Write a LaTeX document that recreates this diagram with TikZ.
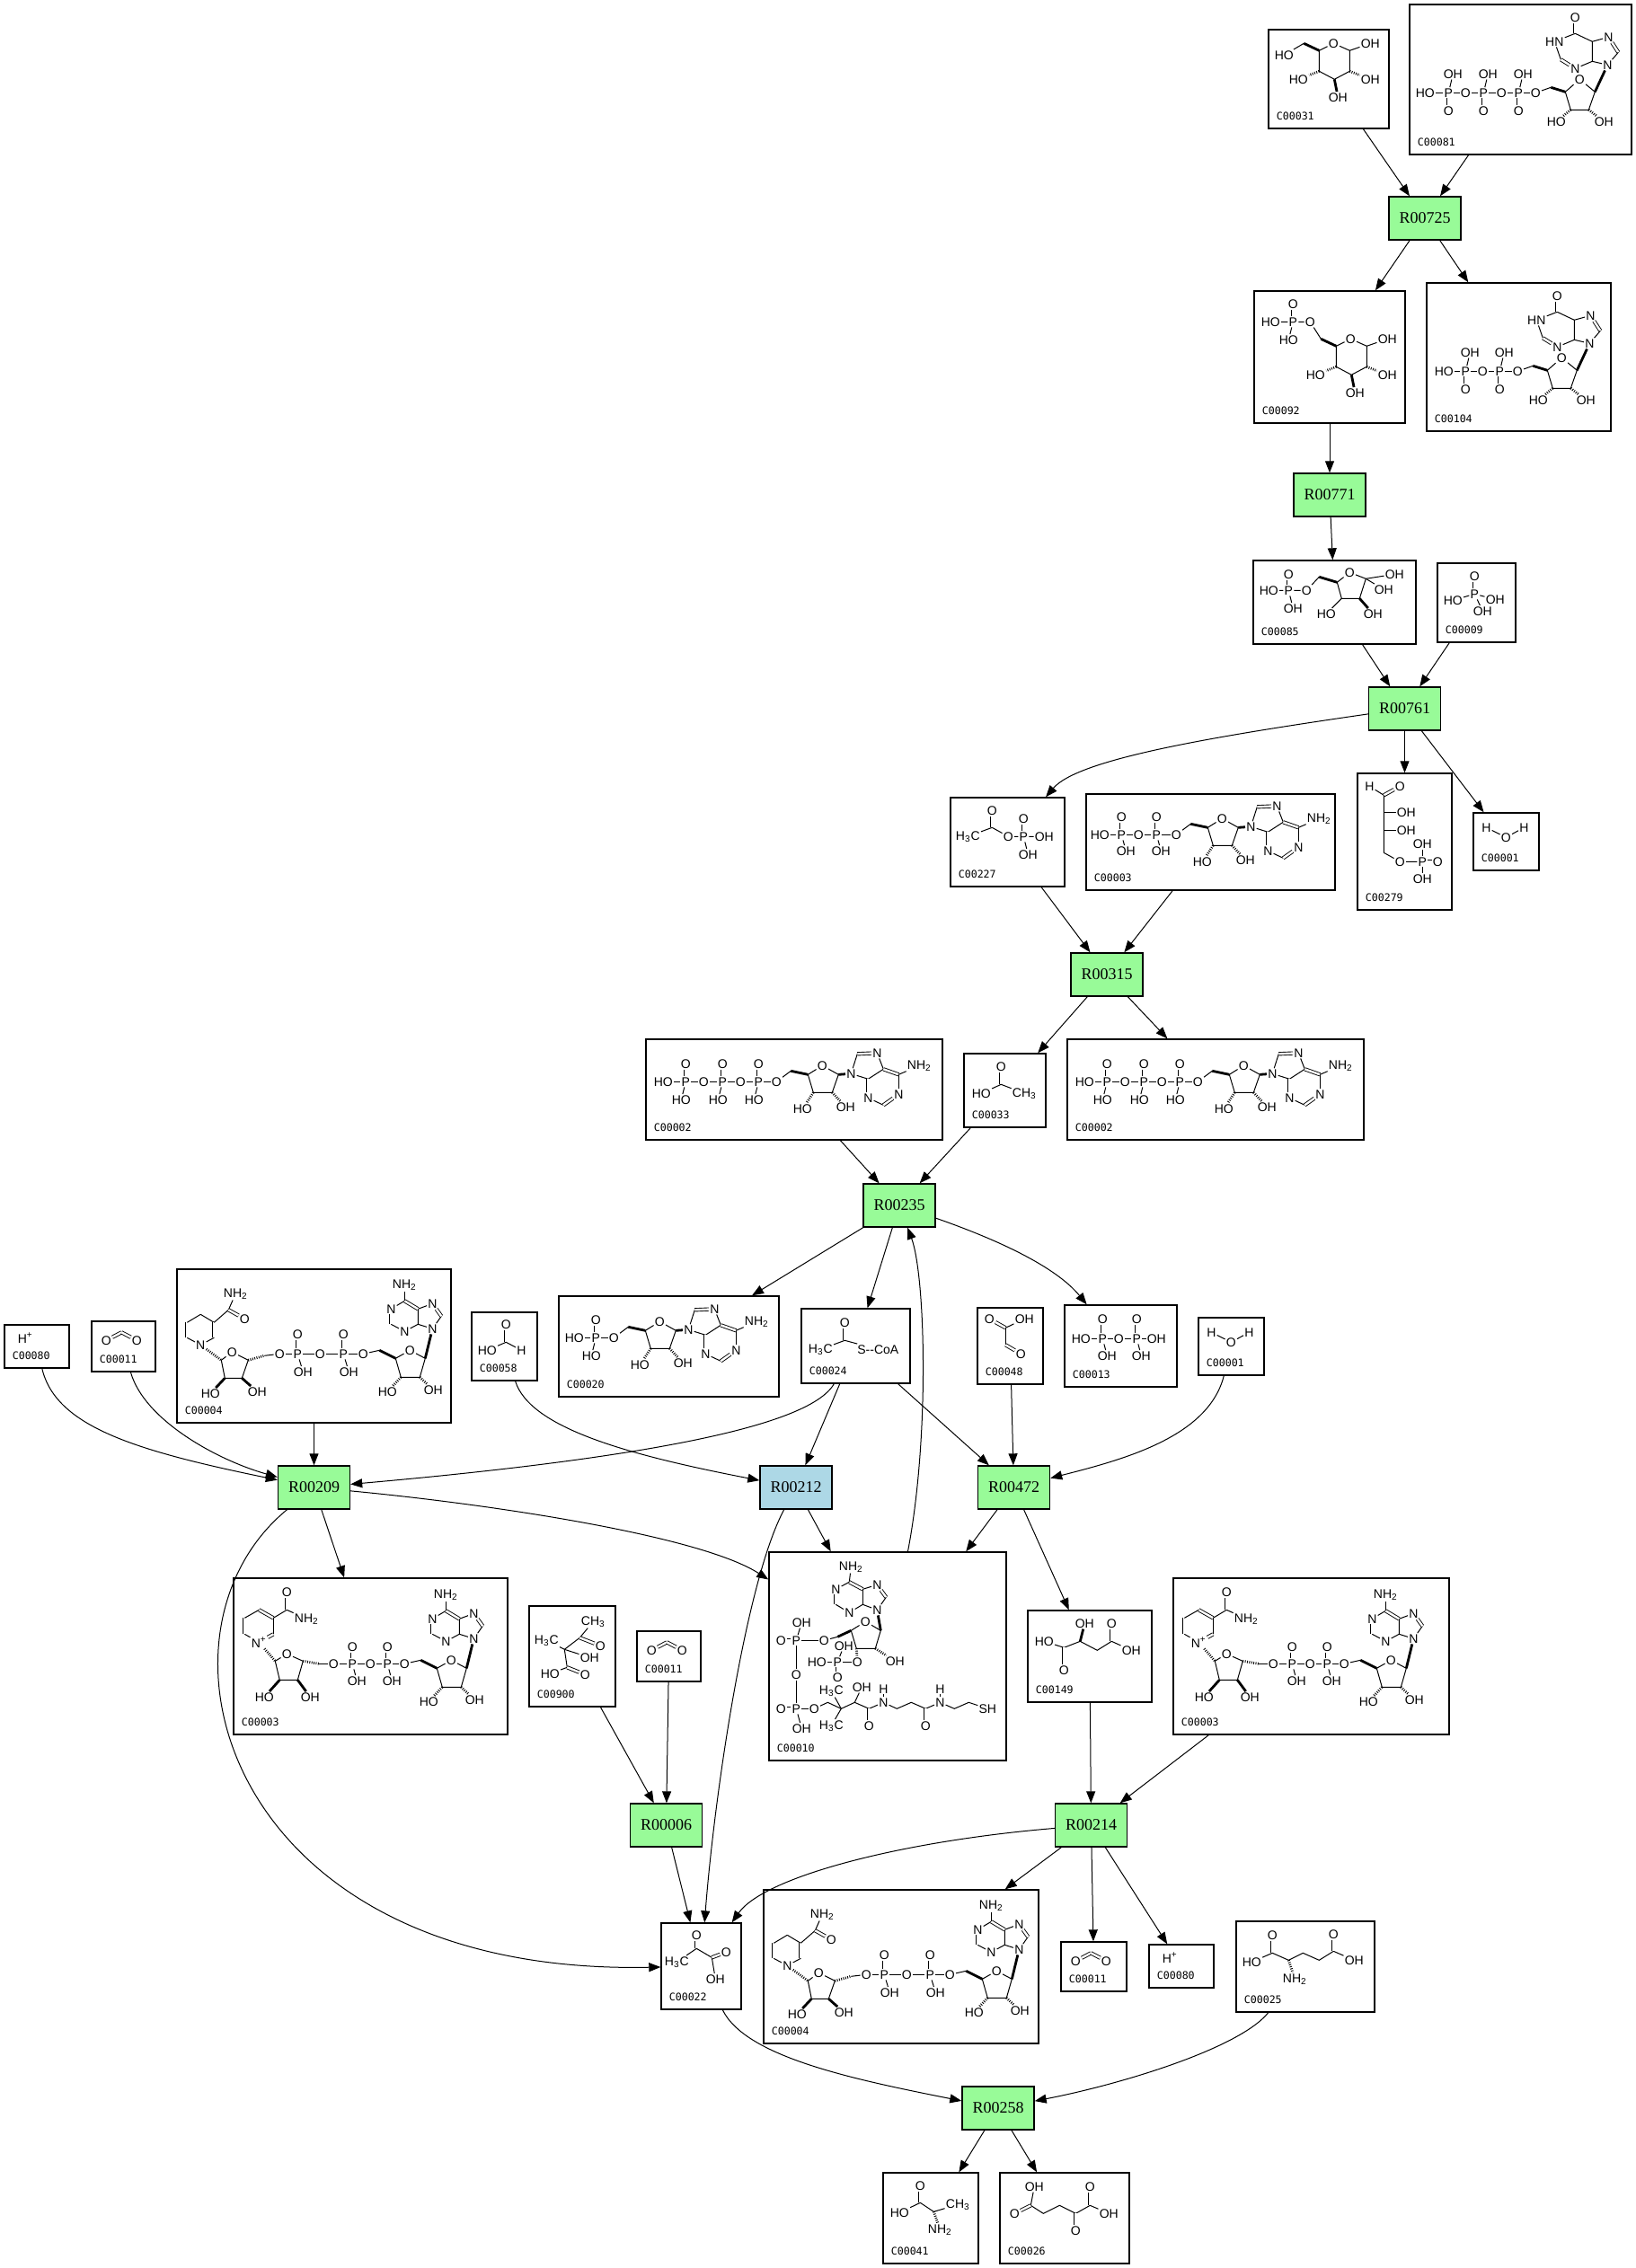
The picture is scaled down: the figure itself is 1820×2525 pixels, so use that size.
\documentclass[tikz,border=0pt]{standalone}
\usepackage{fontspec}
\setmainfont{Liberation Serif}
\newfontfamily\idfamily{DejaVu Sans Mono}
\newfontfamily\atomfamily{Liberation Sans}
\usetikzlibrary{arrows.meta}

\definecolor{rgreen}{HTML}{98FB98}
\definecolor{rblue}{HTML}{ADD8E6}

\tikzset{
  rxn/.style={draw, fill=rgreen, line width=0.7pt, minimum width=40pt, minimum height=24pt, inner sep=0pt, font=\fontsize{9}{10}\selectfont},
  rxnb/.style={rxn, fill=rblue},
  cpd/.style 2 args={draw, fill=white, line width=0.7pt, inner sep=0pt, minimum width=#1*0.5pt, minimum height=#2*0.5pt},
  cid/.style={anchor=base west, inner sep=0pt, xshift=4.5pt, yshift=5pt, font=\idfamily\fontsize{5.8}{6}\selectfont},
  atom/.style={inner sep=0.4pt, font=\atomfamily\fontsize{7}{8}\selectfont},
  bond/.style={line width=0.5pt},
  dbl/.style={double, double distance=1.2pt, line width=0.45pt},
  wedge/.style={line width=1.4pt},
  hash/.style={line width=1.4pt, dash pattern=on 0.45pt off 0.75pt},
  >={Triangle[length=6.5pt,width=5pt]}
}

% Pieces of structures (pixel units, origin at the anchor atom)
\tikzset{
  pics/phos/.style n args={4}{code={
    \node[atom] (-p) at (0,0) {P};
    \node[atom] (-o) at (0,#1) {O};
    \node[atom] (-h) at (#2,#3) {#4};
    \draw[dbl] (-p) -- (-o);
    \draw[bond] (-p) -- (-h);
  }},
  pics/hexring/.style={code={
    \node[atom] (-o) at (0,0) {O};
    \coordinate (-c1) at (18,8);
    \coordinate (-c2) at (18,31);
    \coordinate (-c3) at (1,40);
    \coordinate (-c4) at (-16,31);
    \coordinate (-c5) at (-16,8);
    \node[atom] (-h1) at (41,0) {OH};
    \node[atom] (-h2) at (41,40) {OH};
    \node[atom] (-h3) at (5,60) {OH};
    \node[atom] (-h4) at (-39,40) {HO};
    \draw[bond] (-o) -- (-c1) -- (-c2) -- (-c3) -- (-c4) -- (-c5) -- (-o);
    \draw[bond] (-c1) -- (-h1);
    \draw[hash] (-c2) -- (-h2);
    \draw[wedge] (-c3) -- (-h3);
    \draw[hash] (-c4) -- (-h4);
    \draw[wedge] (-c5) -- (-33,0);
  }},
  pics/inosine/.style={code={
    \node[atom] (-o5) at (0,0) {O};
    \coordinate (-c5) at (17,-6);
    \coordinate (-c4) at (33,-1);
    \node[atom] (-o4) at (49,-15) {O};
    \coordinate (-c1) at (66,-1);
    \coordinate (-c2) at (59,19);
    \coordinate (-c3) at (39,19);
    \node[atom] (-h3) at (23,32) {HO};
    \node[atom] (-h2) at (76,32) {OH};
    \node[atom] (-n9) at (80,-31) {N};
    \coordinate (-b4) at (63,-35);
    \coordinate (-b5) at (63,-57);
    \node[atom] (-n7) at (81,-62) {N};
    \coordinate (-b8) at (92,-45);
    \node[atom] (-n3) at (44,-27) {N};
    \coordinate (-b2) at (28,-37);
    \node[atom] (-n1) at (21,-57) {HN};
    \coordinate (-b6) at (44,-66);
    \node[atom] (-o6) at (44,-84) {O};
    \draw[bond] (-o5) -- (-c5);
    \draw[wedge] (-c5) -- (-c4);
    \draw[bond] (-c4) -- (-o4) -- (-c1) -- (-c2) -- (-c3) -- (-c4);
    \draw[hash] (-c3) -- (-h3);
    \draw[hash] (-c2) -- (-h2);
    \draw[wedge] (-c1) -- (-n9);
    \draw[bond] (-n9) -- (-b4) -- (-b5) -- (-n7);
    \draw[dbl] (-n7) -- (-b8);
    \draw[bond] (-b8) -- (-n9);
    \draw[bond] (-b4) -- (-n3);
    \draw[dbl] (-n3) -- (-b2);
    \draw[bond] (-b2) -- (-n1) -- (-b6) -- (-b5);
    \draw[dbl] (-b6) -- (-o6);
  }},
  pics/adenosine/.style={code={
    \node[atom] (-o5) at (0,0) {O};
    \coordinate (-c5) at (16,-12);
    \coordinate (-c4) at (35,-8);
    \node[atom] (-o4) at (51,-18) {O};
    \coordinate (-c1) at (69,-8);
    \coordinate (-c2) at (62,12);
    \coordinate (-c3) at (41,12);
    \node[atom] (-h3) at (29,30) {HO};
    \node[atom] (-h2) at (77,28) {OH};
    \node[atom] (-n9) at (83,-9) {N};
    \coordinate (-b8) at (90,-31);
    \node[atom] (-n7) at (112,-32) {N};
    \coordinate (-b5) at (119,-14);
    \coordinate (-b4) at (102,-3);
    \node[atom] (-n3) at (102,18) {N};
    \coordinate (-b2) at (119,26);
    \node[atom] (-n1) at (136,14) {N};
    \coordinate (-b6) at (136,-8);
    \node[atom] (-nh) at (159,-18) {NH\textsubscript{2}};
    \draw[bond] (-o5) -- (-c5);
    \draw[wedge] (-c5) -- (-c4);
    \draw[bond] (-c4) -- (-o4) -- (-c1) -- (-c2) -- (-c3) -- (-c4);
    \draw[hash] (-c3) -- (-h3);
    \draw[hash] (-c2) -- (-h2);
    \draw[wedge] (-c1) -- (-n9);
    \draw[bond] (-n9) -- (-b8);
    \draw[dbl] (-b8) -- (-n7);
    \draw[bond] (-n7) -- (-b5) -- (-b4) -- (-n9);
    \draw[dbl] (-b4) -- (-n3);
    \draw[bond] (-n3) -- (-b2);
    \draw[dbl] (-b2) -- (-n1);
    \draw[bond] (-n1) -- (-b6);
    \draw[dbl] (-b6) -- (-b5);
    \draw[bond] (-b6) -- (-nh);
  }},
  pics/adeup/.style={code={
    \node[atom] (-o5) at (0,0) {O};
    \coordinate (-c5) at (18,-4);
    \coordinate (-c4) at (36,5);
    \node[atom] (-o4) at (52,-4) {O};
    \coordinate (-c1) at (69,5);
    \coordinate (-c2) at (63,26);
    \coordinate (-c3) at (42,26);
    \node[atom] (-h3) at (27,42) {HO};
    \node[atom] (-h2) at (78,40) {OH};
    \coordinate (-b6) at (46,-59);
    \coordinate (-b5) at (61,-50);
    \coordinate (-b4) at (61,-33);
    \node[atom] (-n3) at (46,-25) {N};
    \coordinate (-b2) at (31,-33);
    \node[atom] (-n1) at (31,-50) {N};
    \node[atom] (-nh) at (46,-77) {NH\textsubscript{2}};
    \node[atom] (-n7) at (77,-56) {N};
    \coordinate (-b8) at (87,-42);
    \node[atom] (-n9) at (77,-28) {N};
    \draw[bond] (-o5) -- (-c5);
    \draw[wedge] (-c5) -- (-c4);
    \draw[bond] (-c4) -- (-o4) -- (-c1) -- (-c2) -- (-c3) -- (-c4);
    \draw[hash] (-c3) -- (-h3);
    \draw[hash] (-c2) -- (-h2);
    \draw[wedge] (-c1) -- (-n9);
    \draw[bond] (-n9) -- (-b8);
    \draw[dbl] (-b8) -- (-n7);
    \draw[bond] (-n7) -- (-b5) -- (-b4) -- (-n9);
    \draw[bond] (-b4) -- (-n3) -- (-b2);
    \draw[dbl] (-b2) -- (-n1);
    \draw[bond] (-n1) -- (-b6);
    \draw[dbl] (-b6) -- (-b5);
    \draw[bond] (-b6) -- (-nh);
  }}
}

% Whole compounds (pixel units, origin at the top left of the box)
\tikzset{
  pics/glucose/.style={code={
    \pic at (73,16) {hexring};
    \node[atom] (-h6) at (18,29) {HO};
    \draw[bond] (40,16) -- (-h6);
  }},
  pics/gsixp/.style={code={
    \pic at (108,54) {hexring};
    \node[atom] (-oe) at (63,35) {O};
    \pic (pa) at (44,35) {phos={-20}{-5}{20}{HO}};
    \node[atom] (-ho) at (19,35) {HO};
    \draw[bond] (75,54) -- (-oe) -- (pa-p) -- (-ho);
  }},
  pics/itp/.style={code={
    \node[atom] (-ho) at (18,99) {HO};
    \pic (pa) at (44,99) {phos={20}{5}{-21}{OH}};
    \node[atom] (-ob) at (63,99) {O};
    \pic (pb) at (83,99) {phos={20}{5}{-21}{OH}};
    \node[atom] (-oc) at (103,99) {O};
    \pic (pc) at (122,99) {phos={20}{5}{-21}{OH}};
    \pic (ino) at (141,99) {inosine};
    \draw[bond] (-ho) -- (pa-p) -- (-ob) -- (pb-p) -- (-oc) -- (pc-p) -- (ino-o5);
  }},
  pics/idp/.style={code={
    \node[atom] (-ho) at (20,99) {HO};
    \pic (pa) at (44,99) {phos={20}{5}{-21}{OH}};
    \node[atom] (-ob) at (63,99) {O};
    \pic (pb) at (82,99) {phos={20}{5}{-21}{OH}};
    \pic (ino) at (102,99) {inosine};
    \draw[bond] (-ho) -- (pa-p) -- (-ob) -- (pb-p) -- (ino-o5);
  }},
  pics/fsixp/.style={code={
    \pic (pa) at (40,34) {phos={-18}{5}{20}{OH}};
    \node[atom] (-ho) at (18,34) {HO};
    \node[atom] (-oe) at (60,34) {O};
    \coordinate (-k6) at (74,19);
    \coordinate (-k5) at (94,25);
    \node[atom] (-or) at (108,14) {O};
    \coordinate (-k2) at (126,21);
    \coordinate (-k3) at (119,43);
    \coordinate (-k4) at (99,43);
    \node[atom] (-h1) at (158,16) {OH};
    \node[atom] (-h2) at (146,33) {OH};
    \node[atom] (-h4) at (82,60) {HO};
    \node[atom] (-h3) at (134,60) {OH};
    \draw[bond] (-ho) -- (pa-p) -- (-oe) -- (-k6);
    \draw[wedge] (-k6) -- (-k5);
    \draw[bond] (-k5) -- (-or) -- (-k2) -- (-k3) -- (-k4) -- (-k5);
    \draw[bond] (-k2) -- (-h1);
    \draw[bond] (-k2) -- (-h2);
    \draw[bond] (-k4) -- (-h4);
    \draw[wedge] (-k3) -- (-h3);
  }},
  pics/orthop/.style={code={
    \node[atom] (-o) at (42,15) {O};
    \node[atom] (-p) at (42,35) {P};
    \node[atom] (-h1) at (18,42) {HO};
    \node[atom] (-h2) at (65,41) {OH};
    \node[atom] (-h3) at (51,54) {OH};
    \draw[dbl] (-p) -- (-o);
    \draw[bond] (-p) -- (-h1);
    \draw[bond] (-p) -- (-h2);
    \draw[bond] (-p) -- (-h3);
  }},
  pics/acetylp/.style={code={
    \node[atom] (-me) at (20,44) {H\textsubscript{3}C};
    \coordinate (-k) at (47,34);
    \node[atom] (-o1) at (47,15) {O};
    \node[atom] (-oe) at (65,44) {O};
    \pic (pa) at (82,44) {phos={-20}{5}{20}{OH}};
    \node[atom] (-h) at (105,44) {OH};
    \draw[bond] (-me) -- (-k);
    \draw[dbl] (-k) -- (-o1);
    \draw[bond] (-k) -- (-oe) -- (pa-p) -- (-h);
  }},
  pics/adp/.style={code={
    \node[atom] (-ho) at (16,46) {HO};
    \pic (pa) at (40,46) {phos={-20}{5}{18}{OH}};
    \node[atom] (-ob) at (59,46) {O};
    \pic (pb) at (79,46) {phos={-20}{5}{18}{OH}};
    \pic (ad) at (101,46) {adenosine};
    \draw[bond] (-ho) -- (pa-p) -- (-ob) -- (pb-p) -- (ad-o5);
  }},
  pics/efourp/.style={code={
    \node[atom] (-h) at (14,15) {H};
    \coordinate (-k1) at (30,25);
    \node[atom] (-o) at (48,15) {O};
    \coordinate (-k2) at (30,44);
    \node[atom] (-h2) at (55,44) {OH};
    \coordinate (-k3) at (30,64);
    \node[atom] (-h3) at (55,64) {OH};
    \coordinate (-k4) at (30,89);
    \node[atom] (-oe) at (48,99) {O};
    \node[atom] (-p) at (73,99) {P};
    \node[atom] (-ha) at (73,79) {OH};
    \node[atom] (-hb) at (73,118) {OH};
    \node[atom] (-od) at (90,99) {O};
    \draw[bond] (-h) -- (-k1);
    \draw[dbl] (-k1) -- (-o);
    \draw[bond] (-k1) -- (-k2) -- (-k3) -- (-k4) -- (-oe) -- (-p);
    \draw[bond] (-k2) -- (-h2);
    \draw[bond] (-k3) -- (-h3);
    \draw[bond] (-p) -- (-ha);
    \draw[bond] (-p) -- (-hb);
    \draw[dbl] (-p) -- (-od);
  }},
  pics/water/.style={code={
    \node[atom] (-h) at (15,17) {H};
    \node[atom] (-o) at (37,28) {O};
    \node[atom] (-k) at (57,17) {H};
    \draw[bond] (-h) -- (-o) -- (-k);
  }},
  pics/atp/.style={code={
    \node[atom] (-ho) at (20,48) {HO};
    \pic (pa) at (45,48) {phos={-20}{-5}{20}{HO}};
    \node[atom] (-ob) at (65,48) {O};
    \pic (pb) at (86,48) {phos={-20}{-5}{20}{HO}};
    \node[atom] (-oc) at (106,48) {O};
    \pic (pc) at (126,48) {phos={-20}{-5}{20}{HO}};
    \pic (ad) at (146,48) {adenosine};
    \draw[bond] (-ho) -- (pa-p) -- (-ob) -- (pb-p) -- (-oc) -- (pc-p) -- (ad-o5);
  }},
  pics/acetate/.style={code={
    \node[atom] (-o) at (42,15) {O};
    \coordinate (-k) at (42,35);
    \node[atom] (-ho) at (20,45) {HO};
    \node[atom] (-me) at (68,45) {CH\textsubscript{3}};
    \draw[dbl] (-k) -- (-o);
    \draw[bond] (-ho) -- (-k) -- (-me);
  }},
  pics/proton/.style={code={
    \node[atom] (-h) at (24,15) {H\textsuperscript{+}};
  }},
  pics/cotwo/.style={code={
    \node[atom] (-o) at (17,22) {O};
    \coordinate (-k) at (34,13);
    \node[atom] (-p) at (51,22) {O};
    \draw[dbl] (-o) -- (-k);
    \draw[dbl] (-k) -- (-p);
  }},
  pics/nadh/.style={code={
    \coordinate (-t) at (27,51);
    \coordinate (-ur) at (42,60);
    \coordinate (-lr) at (42,77);
    \node[atom] (-n) at (27,85) {N};
    \coordinate (-ll) at (12,77);
    \coordinate (-ul) at (12,60);
    \draw[bond] (-t) -- (-ur);
    \draw[dbl] (-ur) -- (-lr);
    \draw[bond] (-lr) -- (-n) -- (-ll);
    \draw[dbl] (-ll) -- (-ul);
    \draw[bond] (-ul) -- (-t);
    \coordinate (-ca) at (58,46);
    \node[atom] (-na) at (66,28) {NH\textsubscript{2}};
    \node[atom] (-oa) at (76,56) {O};
    \draw[bond] (-ur) -- (-ca) -- (-na);
    \draw[dbl] (-ca) -- (-oa);
    \coordinate (-r1) at (50,102);
    \node[atom] (-ro) at (62,93) {O};
    \coordinate (-r4) at (80,102);
    \coordinate (-r3) at (73,122);
    \coordinate (-r2) at (54,122);
    \node[atom] (-rh2) at (38,139) {HO};
    \node[atom] (-rh3) at (90,137) {OH};
    \coordinate (-r5) at (98,97);
    \node[atom] (-oe) at (115,95) {O};
    \draw[hash] (-n) -- (-r1);
    \draw[bond] (-r1) -- (-ro) -- (-r4) -- (-r3) -- (-r2) -- (-r1);
    \draw[wedge] (-r2) -- (-rh2);
    \draw[wedge] (-r3) -- (-rh3);
    \draw[hash] (-r4) -- (-r5);
    \draw[bond] (-r5) -- (-oe);
    \pic (pa) at (135,95) {phos={-22}{6}{20}{OH}};
    \node[atom] (-ob) at (160,95) {O};
    \pic (pb) at (186,95) {phos={-22}{6}{20}{OH}};
    \pic (ad) at (208,95) {adeup};
    \draw[bond] (-oe) -- (pa-p) -- (-ob) -- (pb-p) -- (ad-o5);
  }},
  pics/nadplus/.style={code={
    \coordinate (-t) at (29,36);
    \coordinate (-ur) at (45,45);
    \coordinate (-lr) at (45,63);
    \node[atom] (-n) at (29,72) {N\textsuperscript{+}};
    \coordinate (-ll) at (13,63);
    \coordinate (-ul) at (13,45);
    \draw[dbl] (-t) -- (-ur);
    \draw[bond] (-ur) -- (-lr);
    \draw[dbl] (-lr) -- (-n);
    \draw[bond] (-n) -- (-ll);
    \draw[dbl] (-ll) -- (-ul);
    \draw[bond] (-ul) -- (-t);
    \coordinate (-ca) at (60,36);
    \node[atom] (-oa) at (60,16) {O};
    \node[atom] (-na) at (82,46) {NH\textsubscript{2}};
    \draw[bond] (-ur) -- (-ca) -- (-na);
    \draw[dbl] (-ca) -- (-oa);
    \coordinate (-r1) at (47,93);
    \node[atom] (-ro) at (60,85) {O};
    \coordinate (-r4) at (78,93);
    \coordinate (-r3) at (72,114);
    \coordinate (-r2) at (52,114);
    \node[atom] (-rh2) at (35,133) {HO};
    \node[atom] (-rh3) at (86,133) {OH};
    \coordinate (-r5) at (96,96);
    \node[atom] (-oe) at (112,96) {O};
    \draw[hash] (-n) -- (-r1);
    \draw[bond] (-r1) -- (-ro) -- (-r4) -- (-r3) -- (-r2) -- (-r1);
    \draw[wedge] (-r2) -- (-rh2);
    \draw[wedge] (-r3) -- (-rh3);
    \draw[hash] (-r4) -- (-r5);
    \draw[bond] (-r5) -- (-oe);
    \pic (pa) at (133,96) {phos={-19}{5}{19}{OH}};
    \node[atom] (-ob) at (153,96) {O};
    \pic (pb) at (172,96) {phos={-19}{5}{19}{OH}};
    \pic (ad) at (191,96) {adeup};
    \draw[bond] (-oe) -- (pa-p) -- (-ob) -- (pb-p) -- (ad-o5);
  }},
  pics/formate/.style={code={
    \node[atom] (-o) at (39,14) {O};
    \coordinate (-k) at (39,34);
    \node[atom] (-ho) at (18,43) {HO};
    \node[atom] (-h) at (56,43) {H};
    \draw[dbl] (-k) -- (-o);
    \draw[bond] (-ho) -- (-k) -- (-h);
  }},
  pics/amp/.style={code={
    \node[atom] (-ho) at (18,47) {HO};
    \pic (pa) at (42,47) {phos={-20}{-5}{20}{HO}};
    \pic (ad) at (62,47) {adenosine};
    \draw[bond] (-ho) -- (pa-p) -- (ad-o5);
  }},
  pics/accoa/.style={code={
    \node[atom] (-o) at (49,16) {O};
    \coordinate (-k) at (49,36);
    \node[atom] (-me) at (22,46) {H\textsubscript{3}C};
    \node[atom] (-s) at (86,46) {S--CoA};
    \draw[dbl] (-k) -- (-o);
    \draw[bond] (-me) -- (-k) -- (-s);
  }},
  pics/glyox/.style={code={
    \node[atom] (-o1) at (14,13) {O};
    \node[atom] (-h) at (53,13) {OH};
    \coordinate (-k1) at (32,23);
    \coordinate (-k2) at (32,42);
    \node[atom] (-o2) at (49,52) {O};
    \draw[dbl] (-k1) -- (-o1);
    \draw[bond] (-k1) -- (-h);
    \draw[bond] (-k1) -- (-k2);
    \draw[dbl] (-k2) -- (-o2);
  }},
  pics/ppi/.style={code={
    \node[atom] (-ho) at (19,38) {HO};
    \pic (pa) at (43,38) {phos={-22}{5}{19}{OH}};
    \node[atom] (-ob) at (61,38) {O};
    \pic (pb) at (81,38) {phos={-22}{5}{19}{OH}};
    \node[atom] (-h) at (103,38) {OH};
    \draw[bond] (-ho) -- (pa-p) -- (-ob) -- (pb-p) -- (-h);
  }},
  pics/acetolac/.style={code={
    \node[atom] (-me) at (72,18) {CH\textsubscript{3}};
    \coordinate (-kc) at (57,36);
    \node[atom] (-o) at (80,45) {O};
    \node[atom] (-mf) at (20,39) {H\textsubscript{3}C};
    \coordinate (-kq) at (40,49);
    \node[atom] (-oh) at (68,58) {OH};
    \coordinate (-kx) at (43,69);
    \node[atom] (-ho) at (24,76) {HO};
    \node[atom] (-ox) at (63,77) {O};
    \draw[bond] (-mf) -- (-kq) -- (-kc) -- (-me);
    \draw[dbl] (-kc) -- (-o);
    \draw[bond] (-kq) -- (-oh);
    \draw[bond] (-kq) -- (-kx) -- (-ho);
    \draw[dbl] (-kx) -- (-ox);
  }},
  pics/coa/.style={code={
    \coordinate (-b6) at (90,34);
    \coordinate (-b5) at (105,42);
    \coordinate (-b4) at (105,59);
    \node[atom] (-n3) at (90,68) {N};
    \coordinate (-b2) at (75,59);
    \node[atom] (-n1) at (75,42) {N};
    \node[atom] (-nh) at (92,17) {NH\textsubscript{2}};
    \node[atom] (-n7) at (121,37) {N};
    \coordinate (-b8) at (131,51);
    \node[atom] (-n9) at (121,65) {N};
    \draw[bond] (-b6) -- (-nh);
    \draw[dbl] (-b6) -- (-b5);
    \draw[bond] (-b5) -- (-b4);
    \draw[bond] (-b4) -- (-n3) -- (-b2);
    \draw[dbl] (-b2) -- (-n1);
    \draw[bond] (-n1) -- (-b6);
    \draw[bond] (-b5) -- (-n7);
    \draw[dbl] (-n7) -- (-b8);
    \draw[bond] (-b8) -- (-n9) -- (-b4);
    \node[atom] (-o4) at (108,78) {O};
    \coordinate (-c1) at (125,88);
    \coordinate (-c2) at (119,108);
    \coordinate (-c3) at (98,108);
    \coordinate (-c4) at (92,88);
    \coordinate (-c5) at (77,95);
    \node[atom] (-o5) at (62,99) {O};
    \node[atom] (-h2) at (141,122) {OH};
    \draw[bond] (-c4) -- (-o4) -- (-c1) -- (-c2) -- (-c3) -- (-c4);
    \draw[wedge] (-c1) -- (-n9);
    \draw[wedge] (-c4) -- (-c5);
    \draw[bond] (-c5) -- (-o5);
    \draw[hash] (-c2) -- (-h2);
    \node[atom] (-o3) at (99,123) {O};
    \node[atom] (-p3) at (77,123) {P};
    \node[atom] (-h3) at (54,123) {HO};
    \node[atom] (-h4) at (84,105) {OH};
    \node[atom] (-o9) at (77,140) {O};
    \draw[hash] (-c3) -- (-o3);
    \draw[bond] (-o3) -- (-p3) -- (-h3);
    \draw[bond] (-p3) -- (-h4);
    \draw[dbl] (-p3) -- (-o9);
    \node[atom] (-p1) at (31,99) {P};
    \node[atom] (-q1) at (14,99) {O};
    \node[atom] (-u1) at (37,79) {OH};
    \node[atom] (-ob) at (31,137) {O};
    \node[atom] (-p2) at (31,175) {P};
    \node[atom] (-q2) at (14,175) {O};
    \node[atom] (-u2) at (37,197) {OH};
    \node[atom] (-oc) at (51,175) {O};
    \draw[bond] (-o5) -- (-p1) -- (-ob) -- (-p2) -- (-oc);
    \draw[dbl] (-p1) -- (-q1);
    \draw[dbl] (-p2) -- (-q2);
    \draw[bond] (-p1) -- (-u1);
    \draw[bond] (-p2) -- (-u2);
    \coordinate (-k1) at (66,168);
    \coordinate (-k2) at (81,175);
    \node[atom] (-m1) at (70,155) {H\textsubscript{3}C};
    \node[atom] (-m2) at (70,194) {H\textsubscript{3}C};
    \coordinate (-k3) at (96,168);
    \node[atom] (-oh) at (104,151) {OH};
    \coordinate (-k4) at (112,175);
    \node[atom] (-ok) at (112,194) {O};
    \node[atom] (-na) at (128,168) {N};
    \node[atom] (-ha) at (128,153) {H};
    \coordinate (-k5) at (143,175);
    \coordinate (-k6) at (159,168);
    \coordinate (-k7) at (175,175);
    \node[atom] (-ol) at (175,194) {O};
    \node[atom] (-nb) at (191,168) {N};
    \node[atom] (-hb) at (191,153) {H};
    \coordinate (-k8) at (207,175);
    \coordinate (-k9) at (223,168);
    \node[atom] (-sh) at (244,175) {SH};
    \draw[bond] (-oc) -- (-k1) -- (-k2) -- (-k3) -- (-k4) -- (-na) -- (-k5) -- (-k6) -- (-k7) -- (-nb) -- (-k8) -- (-k9) -- (-sh);
    \draw[bond] (-k2) -- (-m1);
    \draw[bond] (-k2) -- (-m2);
    \draw[bond] (-k3) -- (-oh);
    \draw[dbl] (-k4) -- (-ok);
    \draw[bond] (-na) -- (-ha);
    \draw[dbl] (-k7) -- (-ol);
    \draw[bond] (-nb) -- (-hb);
  }},
  pics/malate/.style={code={
    \node[atom] (-ho) at (19,35) {HO};
    \coordinate (-k1) at (41,42);
    \node[atom] (-o1) at (41,67) {O};
    \coordinate (-k2) at (59,35);
    \node[atom] (-oh) at (64,15) {OH};
    \coordinate (-k3) at (78,45);
    \coordinate (-k4) at (94,35);
    \node[atom] (-o4) at (94,15) {O};
    \node[atom] (-h4) at (116,45) {OH};
    \draw[bond] (-ho) -- (-k1) -- (-k2) -- (-k3) -- (-k4) -- (-h4);
    \draw[dbl] (-k1) -- (-o1);
    \draw[wedge] (-k2) -- (-oh);
    \draw[dbl] (-k4) -- (-o4);
  }},
  pics/pyruvate/.style={code={
    \node[atom] (-o) at (40,14) {O};
    \coordinate (-k2) at (40,29);
    \node[atom] (-me) at (18,44) {H\textsubscript{3}C};
    \coordinate (-k1) at (57,39);
    \node[atom] (-o1) at (73,33) {O};
    \node[atom] (-h) at (61,63) {OH};
    \draw[dbl] (-k2) -- (-o);
    \draw[bond] (-me) -- (-k2) -- (-k1) -- (-h);
    \draw[dbl] (-k1) -- (-o1);
  }},
  pics/glutamate/.style={code={
    \node[atom] (-o) at (41,16) {O};
    \coordinate (-k1) at (41,36);
    \node[atom] (-ho) at (18,46) {HO};
    \coordinate (-k2) at (59,44);
    \node[atom] (-n) at (66,65) {NH\textsubscript{2}};
    \coordinate (-k3) at (75,36);
    \coordinate (-k4) at (93,44);
    \coordinate (-k5) at (109,34);
    \node[atom] (-o5) at (109,15) {O};
    \node[atom] (-h5) at (132,44) {OH};
    \draw[dbl] (-k1) -- (-o);
    \draw[bond] (-ho) -- (-k1) -- (-k2) -- (-k3) -- (-k4) -- (-k5) -- (-h5);
    \draw[hash] (-k2) -- (-n);
    \draw[dbl] (-k5) -- (-o5);
  }},
  pics/alanine/.style={code={
    \node[atom] (-o) at (42,15) {O};
    \coordinate (-k1) at (42,34);
    \node[atom] (-ho) at (19,45) {HO};
    \coordinate (-k2) at (57,44);
    \node[atom] (-me) at (84,36) {CH\textsubscript{3}};
    \node[atom] (-n) at (64,64) {NH\textsubscript{2}};
    \draw[dbl] (-k1) -- (-o);
    \draw[bond] (-ho) -- (-k1) -- (-k2) -- (-me);
    \draw[hash] (-k2) -- (-n);
  }},
  pics/oxoglut/.style={code={
    \node[atom] (-h) at (39,16) {OH};
    \coordinate (-k1) at (35,37);
    \node[atom] (-o) at (17,46) {O};
    \coordinate (-k2) at (49,46);
    \coordinate (-k3) at (67,37);
    \coordinate (-k4) at (85,46);
    \node[atom] (-o4) at (85,65) {O};
    \coordinate (-k5) at (101,37);
    \node[atom] (-o5) at (101,16) {O};
    \node[atom] (-h5) at (122,46) {OH};
    \draw[bond] (-h) -- (-k1) -- (-k2) -- (-k3) -- (-k4) -- (-k5) -- (-h5);
    \draw[dbl] (-k1) -- (-o);
    \draw[dbl] (-k4) -- (-o4);
    \draw[dbl] (-k5) -- (-o5);
  }}
}

\begin{document}
\begin{tikzpicture}[x=0.5pt, y=-0.5pt, line width=0.5pt]
    \fill[white] (0,0) rectangle (1820,2525);
    \useasboundingbox (0,0) rectangle (1820,2525);
    % Glucose and ITP down to glycolysis
    \node[cpd={134}{110}, label={[cid]south west:C00031}] (c31) at (1479,88) {};
    \node[cpd={247}{167}, label={[cid]south west:C00081}] (c81) at (1692.5,88.5) {};
    \node[rxn] (r725) at (1586,243) {R00725};
    \node[cpd={168}{147}, label={[cid]south west:C00092}] (c92) at (1480,397.5) {};
    \node[cpd={205}{165}, label={[cid]south west:C00104}] (c104) at (1690.5,397.5) {};
    \node[rxn] (r771) at (1480,551) {R00771};
    \node[cpd={181}{93}, label={[cid]south west:C00085}] (c85) at (1485.5,670.5) {};
    \node[cpd={87}{88}, label={[cid]south west:C00009}] (c9) at (1643.5,671) {};
    \node[rxn] (r761) at (1563.5,789) {R00761};
    \node[cpd={127}{99}, label={[cid]south west:C00227}] (c227) at (1121.5,937.5) {};
    \node[cpd={277}{107}, label={[cid]south west:C00003}] (c3a) at (1347.5,937.5) {};
    \node[cpd={105}{152}, label={[cid]south west:C00279}] (c279) at (1563.5,937) {};
    \node[cpd={73}{64}, label={[cid]south west:C00001}] (c1a) at (1676.5,937) {};
    \node[rxn] (r315) at (1232,1085) {R00315};
    \node[cpd={330}{112}, label={[cid]south west:C00002}] (c2a) at (884,1213) {};
    \node[cpd={91}{82}, label={[cid]south west:C00033}] (c33) at (1118.5,1214) {};
    \node[cpd={330}{112}, label={[cid]south west:C00002}] (c2b) at (1353,1213) {};
    \node[rxn] (r235) at (1001,1342) {R00235};
    % Middle row
    \node[cpd={72}{48}, label={[cid]south west:C00080}] (c80a) at (41,1499) {};
    \node[cpd={71}{56}, label={[cid]south west:C00011}] (c11a) at (137.5,1499) {};
    \node[cpd={305}{171}, label={[cid]south west:C00004}] (c4a) at (349.5,1498.5) {};
    \node[cpd={73}{76}, label={[cid]south west:C00058}] (c58) at (561.5,1499) {};
    \node[cpd={245}{112}, label={[cid]south west:C00020}] (c20) at (744.5,1499) {};
    \node[cpd={121}{83}, label={[cid]south west:C00024}] (c24) at (952.5,1498.5) {};
    \node[cpd={73}{85}, label={[cid]south west:C00048}] (c48) at (1124.5,1498.5) {};
    \node[cpd={125}{91}, label={[cid]south west:C00013}] (c13) at (1247.5,1498.5) {};
    \node[cpd={73}{64}, label={[cid]south west:C00001}] (c1b) at (1370.5,1499) {};
    \node[rxn] (r209) at (349.5,1656) {R00209};
    \node[rxnb] (r212) at (886,1656) {R00212};
    \node[rxn] (r472) at (1128.5,1656) {R00472};
    \node[cpd={305}{174}, label={[cid]south west:C00003}] (c3b) at (412.5,1844) {};
    \node[cpd={96}{112}, label={[cid]south west:C00900}] (c900) at (637,1844) {};
    \node[cpd={71}{56}, label={[cid]south west:C00011}] (c11b) at (744.5,1844) {};
    \node[cpd={264}{232}, label={[cid]south west:C00010}] (c10) at (988,1844) {};
    \node[cpd={138}{102}, label={[cid]south west:C00149}] (c149) at (1213,1844) {};
    \node[cpd={307}{174}, label={[cid]south west:C00003}] (c3c) at (1459.5,1844) {};
    % Pyruvate and transamination
    \node[rxn] (r6) at (741.5,2032) {R00006};
    \node[rxn] (r214) at (1214.5,2032) {R00214};
    \node[cpd={89}{96}, label={[cid]south west:C00022}] (c22) at (780.5,2189) {};
    \node[cpd={306}{171}, label={[cid]south west:C00004}] (c4b) at (1003,2189.5) {};
    \node[cpd={73}{55}, label={[cid]south west:C00011}] (c11c) at (1217.5,2189.5) {};
    \node[cpd={72}{48}, label={[cid]south west:C00080}] (c80b) at (1315,2189) {};
    \node[cpd={154}{101}, label={[cid]south west:C00025}] (c25) at (1453,2189.5) {};
    \node[rxn] (r258) at (1111,2347) {R00258};
    \node[cpd={106}{101}, label={[cid]south west:C00041}] (c41) at (1036,2469.5) {};
    \node[cpd={144}{101}, label={[cid]south west:C00026}] (c26) at (1185,2469.5) {};

    % Straight edges
    \draw[->] (c31) -- (r725);
    \draw[->] (c81) -- (r725);
    \draw[->] (r725) -- (c92);
    \draw[->] (r725) -- (c104);
    \draw[->] (c92) -- (r771);
    \draw[->] (r771) -- (c85);
    \draw[->] (c85) -- (r761);
    \draw[->] (c9) -- (r761);
    \draw[->] (r761) -- (c279);
    \draw[->] (r761) -- (c1a);
    \draw[->] (c227) -- (r315);
    \draw[->] (c3a) -- (r315);
    \draw[->] (r315) -- (c33);
    \draw[->] (r315) -- (c2b);
    \draw[->] (c2a) -- (r235);
    \draw[->] (c33) -- (r235);
    \draw[->] (r235) -- (c20);
    \draw[->] (r235) -- (c24);
    \draw[->] (c4a) -- (r209);
    \draw[->] (c24) -- (r212);
    \draw[->] (c24) -- (r472);
    \draw[->] (c48) -- (r472);
    \draw[->] (r209) -- (c3b);
    \draw[->] (r212) -- (c10);
    \draw[->] (r472) -- (c10);
    \draw[->] (r472) -- (c149);
    \draw[->] (c900) -- (r6);
    \draw[->] (c11b) -- (r6);
    \draw[->] (r6) -- (c22);
    \draw[->] (c149) -- (r214);
    \draw[->] (c3c) -- (r214);
    \draw[->] (r214) -- (c4b);
    \draw[->] (r214) -- (c11c);
    \draw[->] (r214) -- (c80b);
    \draw[->] (r258) -- (c41);
    \draw[->] (r258) -- (c26);

    % Curved edges
    \draw[->] (r761) .. controls (1350,820) and (1200,845) .. (c227);
    \draw[->] (r235) .. controls (1110,1380) and (1175,1410) .. (c13);
    \draw[->] (c10) .. controls (1035,1600) and (1030,1420) .. (r235);
    \draw[->] (c80a) .. controls (62,1588) and (150,1615) .. (r209);
    \draw[->] (c11a) .. controls (160,1580) and (240,1625) .. (r209);
    \draw[->] (c24) .. controls (900,1590) and (700,1625) .. (r209);
    \draw[->] (c58) .. controls (590,1590) and (700,1620) .. (r212);
    \draw[->] (c1b) .. controls (1345,1600) and (1250,1625) .. (r472);
    \draw[->] (r209) .. controls (550,1675) and (780,1710) .. (c10);
    \draw[->] (r209) .. controls (150,1820) and (250,2200) .. (c22);
    \draw[->] (r212) .. controls (830,1760) and (795,2000) .. (c22);
    \draw[->] (r214) .. controls (1000,2050) and (850,2090) .. (c22);
    \draw[->] (c22) .. controls (830,2290) and (950,2315) .. (r258);
    \draw[->] (c25) .. controls (1380,2280) and (1250,2320) .. (r258);

    % Structures inside the compound boxes
    \pic at (c31.north west) {glucose};
    \pic at (c81.north west) {itp};
    \pic at (c92.north west) {gsixp};
    \pic at (c104.north west) {idp};
    \pic at (c85.north west) {fsixp};
    \pic at (c9.north west) {orthop};
    \pic at (c227.north west) {acetylp};
    \pic at (c3a.north west) {adp};
    \pic at (c279.north west) {efourp};
    \pic at (c1a.north west) {water};
    \pic at (c2a.north west) {atp};
    \pic at (c33.north west) {acetate};
    \pic at (c2b.north west) {atp};
    \pic at (c80a.north west) {proton};
    \pic at (c11a.north west) {cotwo};
    \pic at (c4a.north west) {nadh};
    \pic at (c58.north west) {formate};
    \pic at (c20.north west) {amp};
    \pic at (c24.north west) {accoa};
    \pic at (c48.north west) {glyox};
    \pic at (c13.north west) {ppi};
    \pic at (c1b.north west) {water};
    \pic at (c3b.north west) {nadplus};
    \pic at (c900.north west) {acetolac};
    \pic at (c11b.north west) {cotwo};
    \pic at (c10.north west) {coa};
    \pic at (c149.north west) {malate};
    \pic at (c3c.north west) {nadplus};
    \pic at (c22.north west) {pyruvate};
    \pic at (c4b.north west) {nadh};
    \pic at (c11c.north west) {cotwo};
    \pic at (c80b.north west) {proton};
    \pic at (c25.north west) {glutamate};
    \pic at (c41.north west) {alanine};
    \pic at (c26.north west) {oxoglut};
\end{tikzpicture}
\end{document}
